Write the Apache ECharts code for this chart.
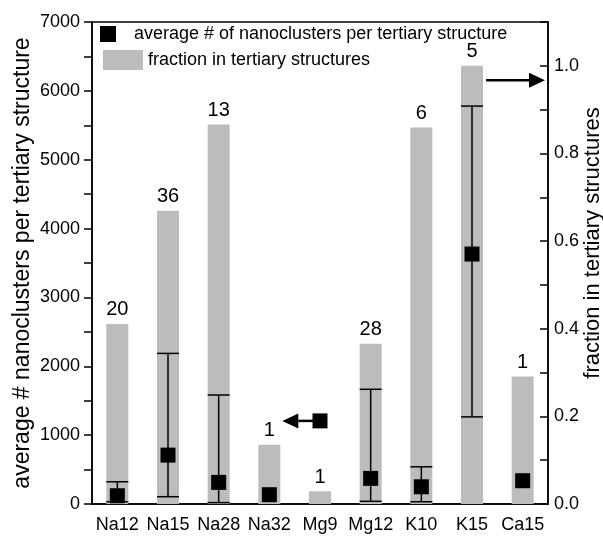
<!DOCTYPE html>
<html>
<head>
<meta charset="utf-8">
<script src="https://cdn.jsdelivr.net/npm/echarts@6/dist/echarts.min.js"></script>
<style>
html,body{margin:0;padding:0;background:#fff;}
#chart{width:603px;height:545px;}
</style>
</head>
<body>
<div id="chart"></div>
<script>
// ---- data ----
const categories = ['Na12', 'Na15', 'Na28', 'Na32', 'Mg9', 'Mg12', 'K10', 'K15', 'Ca15'];
const fraction   = [0.411, 0.669, 0.866, 0.135, 0.029, 0.366, 0.859, 1.0, 0.291];
const counts     = [20, 36, 13, 1, 1, 28, 6, 5, 1];
const avgNano    = [120, 710, 314, 135, 1207, 372, 250, 3630, 338];
const errLow     = [33, 106, 20, null, null, 39, 33, 1265, null];
const errHigh    = [323, 2187, 1583, null, null, 1666, 540, 5779, null];
const leftTicks  = [0, 1000, 2000, 3000, 4000, 5000, 6000, 7000];
const rightTicks = ['0.0', '0.2', '0.4', '0.6', '0.8', '1.0'];

const avgName = 'average # of nanoclusters per tertiary structure';
const fracName = 'fraction in tertiary structures';
const FONT = '"Liberation Sans", Arial, sans-serif';

const errData = [];
categories.forEach((c, i) => {
  if (errLow[i] != null) errData.push([i, errLow[i], errHigh[i]]);
});

const chart = echarts.init(document.getElementById('chart'));

const option = {
  backgroundColor: '#fff',
  animation: false,
  textStyle: { fontFamily: FONT, color: '#000' },
  grid: {
    left: 92, right: 55, top: 22, bottom: 41,
    outerBoundsMode: 'none', containLabel: false,
    show: true, borderColor: '#000', borderWidth: 1.5, backgroundColor: 'transparent'
  },
  legend: [
    {
      data: [{ name: avgName, icon: 'rect' }],
      left: 100, top: 25, padding: 0,
      itemWidth: 16, itemHeight: 16,
      selectedMode: false,
      textStyle: { fontFamily: FONT, fontSize: 18, color: '#000', padding: [0, 0, 0, 13] }
    },
    {
      data: [{ name: fracName, icon: 'rect' }],
      left: 103, top: 50, padding: 0,
      itemWidth: 40, itemHeight: 20,
      selectedMode: false,
      textStyle: { fontFamily: FONT, fontSize: 18, color: '#000' }
    }
  ],
  xAxis: [
    {
      type: 'category', data: categories, position: 'bottom',
      axisLine: { lineStyle: { color: '#000', width: 1.5 } },
      axisTick: { alignWithLabel: true, length: 12, lineStyle: { color: '#000', width: 1.5 } },
      axisLabel: { fontFamily: FONT, fontSize: 18, color: '#000', margin: 12, interval: 0, hideOverlap: false },
      splitLine: { show: false }
    },
    {
      type: 'category', data: categories, position: 'bottom',
      axisLine: { show: false },
      axisTick: { alignWithLabel: false, length: 7, lineStyle: { color: '#000', width: 1.5 } },
      axisLabel: { show: false },
      splitLine: { show: false }
    }
  ],
  yAxis: [
    {
      type: 'value', position: 'left', min: 0, max: 7000, interval: 500,
      name: 'average # nanoclusters per tertiary structure',
      nameLocation: 'middle', nameGap: 58, nameMoveOverlap: false,
      nameTextStyle: { fontFamily: FONT, fontSize: 23, color: '#000' },
      axisLine: { show: true, lineStyle: { color: '#000', width: 1.5 } },
      axisTick: { show: true, length: 8, lineStyle: { color: '#000', width: 1.5 } },
      axisLabel: {
        fontFamily: FONT, fontSize: 18, color: '#000', margin: 12,
        formatter: v => (leftTicks.indexOf(v) >= 0 ? String(v) : '')
      },
      splitLine: { show: false }
    },
    {
      type: 'value', position: 'right', min: 0, max: 1.1, interval: 0.1,
      name: fracName,
      nameLocation: 'middle', nameGap: 34, nameRotate: 90, nameMoveOverlap: false,
      nameTextStyle: { fontFamily: FONT, fontSize: 22, color: '#000', padding: [0, 0, 0, 40] },
      axisLine: { show: true, lineStyle: { color: '#000', width: 1.5 } },
      axisTick: { show: true, inside: true, length: 8, lineStyle: { color: '#000', width: 1.5 } },
      axisLabel: {
        fontFamily: FONT, fontSize: 18, color: '#000', margin: 6,
        formatter: v => {
          const s = (Math.round(v * 10) / 10).toFixed(1);
          return rightTicks.indexOf(s) >= 0 ? s : '';
        }
      },
      splitLine: { show: false }
    }
  ],
  series: [
    {
      name: fracName, type: 'bar', xAxisIndex: 0, yAxisIndex: 1,
      data: fraction, barWidth: 22,
      itemStyle: { color: '#bcbcbc' },
      label: {
        show: true, position: 'top', distance: 4,
        fontFamily: FONT, fontSize: 20, color: '#000',
        formatter: p => String(counts[p.dataIndex])
      },
      z: 1
    },
    {
      name: 'err', type: 'custom', xAxisIndex: 0, yAxisIndex: 0,
      data: errData,
      renderItem: function (params, api) {
        const x = api.value(0);
        const lo = api.coord([x, api.value(1)]);
        const hi = api.coord([x, api.value(2)]);
        const hw = 11;
        const st = { stroke: '#000', lineWidth: 1.5 };
        return {
          type: 'group',
          children: [
            { type: 'line', shape: { x1: lo[0], y1: lo[1], x2: hi[0], y2: hi[1] }, style: st },
            { type: 'line', shape: { x1: lo[0] - hw, y1: lo[1], x2: lo[0] + hw, y2: lo[1] }, style: st },
            { type: 'line', shape: { x1: hi[0] - hw, y1: hi[1], x2: hi[0] + hw, y2: hi[1] }, style: st }
          ]
        };
      },
      z: 2
    },
    {
      name: avgName, type: 'scatter', xAxisIndex: 0, yAxisIndex: 0,
      data: avgNano, symbol: 'rect', symbolSize: 15,
      itemStyle: { color: '#000', opacity: 1 },
      z: 3
    }
  ]
};

chart.setOption(option);

// Annotation arrows: Mg9 point -> left axis, K15 bar -> right axis
const mg9 = categories.indexOf('Mg9');
const na32 = categories.indexOf('Na32');
const k15 = categories.indexOf('K15');
const ca15 = categories.indexOf('Ca15');
const pMg9 = chart.convertToPixel({ xAxisIndex: 0, yAxisIndex: 0 }, [mg9, avgNano[mg9]]);
const pNa32 = chart.convertToPixel({ xAxisIndex: 0, yAxisIndex: 0 }, [na32, 0]);
const pK15 = chart.convertToPixel({ xAxisIndex: 0, yAxisIndex: 1 }, [k15, 0.967]);
const pCa15 = chart.convertToPixel({ xAxisIndex: 0, yAxisIndex: 1 }, [ca15, 0]);
const rightEdge = pCa15[0] + (pCa15[0] - pK15[0]) / 2;

function arrow(x1, y, x2) {
  const dir = x2 > x1 ? 1 : -1;
  const hl = 16, hw = 7.5;
  return [
    { type: 'line', shape: { x1: x1, y1: y, x2: x2 - dir * hl, y2: y }, style: { stroke: '#000', lineWidth: 2.5 }, z: 10 },
    { type: 'polygon', shape: { points: [[x2, y], [x2 - dir * hl, y - hw], [x2 - dir * hl, y + hw]] }, style: { fill: '#000' }, z: 10 }
  ];
}

chart.setOption({
  graphic: [
    ...arrow(pMg9[0] - 7, pMg9[1], pNa32[0] + 13),
    ...arrow(pK15[0] + 14, pK15[1], rightEdge - 3)
  ]
});
</script>
</body>
</html>
